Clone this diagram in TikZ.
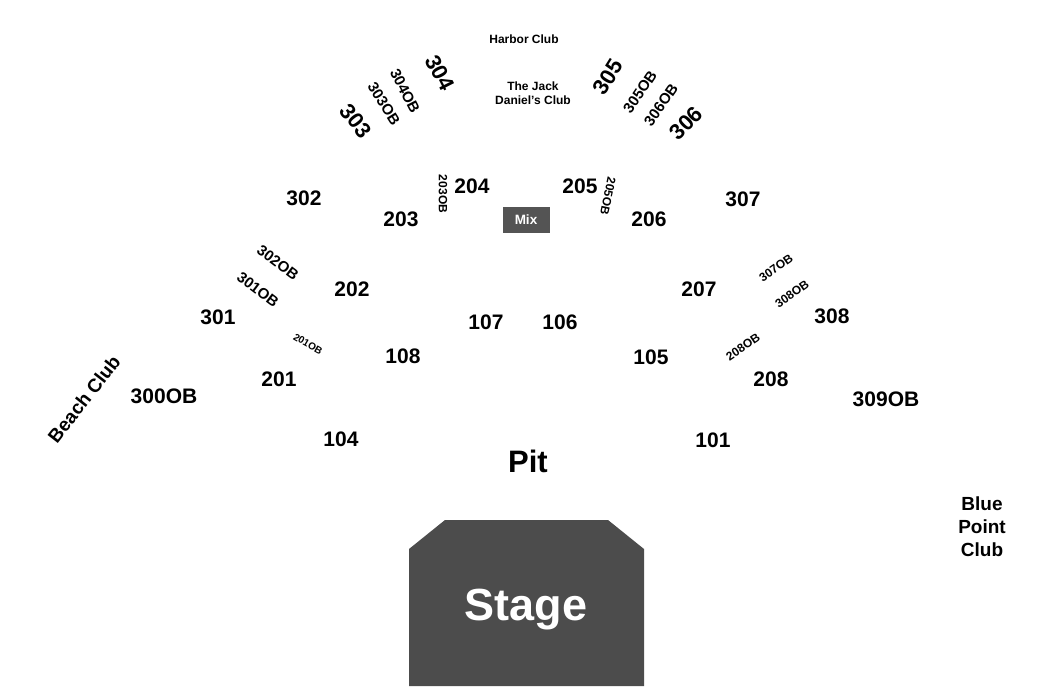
\documentclass[tikz,border=0pt]{standalone}
\usepackage{fontspec}
\setmainfont{Liberation Sans}
\begin{document}
\begin{tikzpicture}[x=1pt,y=-1pt,
  lbl/.style={inner sep=0pt, font=\bfseries\fontsize{#1}{#1}\selectfont},
  sec/.style={lbl=21},
  big/.style={lbl=22},
  ob/.style={lbl=15},
  sob/.style={lbl=12},
  club/.style={lbl=12, align=center, font=\bfseries\fontsize{12}{14.5}\selectfont},
  stagefill/.style={fill=black!70, draw=none}]
\useasboundingbox (0,0) rectangle (1050,692);
% Stage
\path[stagefill] (445,520) -- (608,520) -- (644,549) -- (644,686) -- (409,686) -- (409,549) -- cycle;
\node[text=white, inner sep=0pt, anchor=base, font=\bfseries\fontsize{45}{45}\selectfont] (stage) at (526,620) {Stage};
% Mix
\node[fill=black!67, minimum width=47pt, minimum height=26pt, inner sep=0pt, text=white, font=\bfseries\fontsize{13.5}{13.5}\selectfont] (mix) at (526,220) {Mix};
% Clubs
\node[club] (harbor) at (524,39) {Harbor Club};
\node[club] (jack) at (533,93) {The Jack\\Daniel's Club};
\node[lbl=19, rotate=52] (beach) at (84,399) {Beach Club};
\node[lbl=19, align=center, font=\bfseries\fontsize{19}{23}\selectfont] (blue) at (982,527) {Blue\\Point\\Club};
\node[lbl=31] (pit) at (528,461) {Pit};
% 300 level top
\node[big, rotate=-63] (s304) at (440,73) {304};
\node[ob, rotate=-63] (s304ob) at (405,91) {304OB};
\node[ob, rotate=-58] (s303ob) at (384,104) {303OB};
\node[big, rotate=-52] (s303) at (356,121) {303};
\node[big, rotate=58] (s305) at (608,77) {305};
\node[ob, rotate=56] (s305ob) at (640,92) {305OB};
\node[ob, rotate=55] (s306ob) at (661,105) {306OB};
\node[big, rotate=45] (s306) at (686,123) {306};
% 200 level
\node[sec] (s302) at (304,198) {302};
\node[sec] (s203) at (401,219) {203};
\node[sob, rotate=-90] (s203ob) at (443,194) {203OB};
\node[sec] (s204) at (472,186) {204};
\node[sec] (s205) at (580,186) {205};
\node[sob, rotate=-102] (s205ob) at (608,196) {205OB};
\node[sec] (s206) at (649,219) {206};
\node[sec] (s307) at (743,199) {307};
\node[ob, rotate=-37] (s302ob) at (278,263) {302OB};
\node[ob, rotate=-37] (s301ob) at (258,290) {301OB};
\node[sec] (s202) at (352,289) {202};
\node[sec] (s301) at (218,317) {301};
\node[lbl=10, rotate=-30] (s201ob) at (308,344) {201OB};
\node[sec] (s207) at (699,289) {207};
\node[sob, rotate=35] (s307ob) at (776,268) {307OB};
\node[sob, rotate=35] (s308ob) at (792,294) {308OB};
\node[sec] (s308) at (832,316) {308};
\node[sob, rotate=34] (s208ob) at (743,347) {208OB};
\node[sec] (s208) at (771,379) {208};
\node[sec] (s201) at (279,379) {201};
\node[sec] (s300ob) at (164,396) {300OB};
\node[sec] (s309ob) at (886,399) {309OB};
% 100 level
\node[sec] (s107) at (486,322) {107};
\node[sec] (s106) at (560,322) {106};
\node[sec] (s108) at (403,356) {108};
\node[sec] (s105) at (651,357) {105};
\node[sec] (s104) at (341,439) {104};
\node[sec] (s101) at (713,440) {101};
\end{tikzpicture}
\end{document}
